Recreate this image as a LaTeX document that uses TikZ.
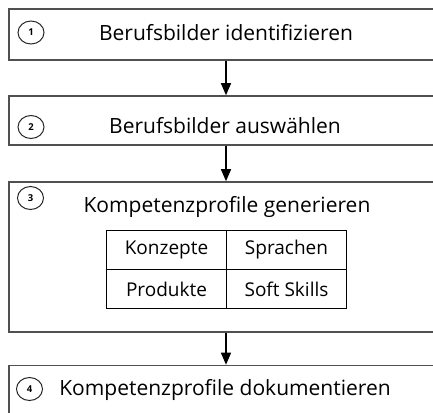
\documentclass[tikz,border=0pt]{standalone}
\usepackage{fontspec}
\setmainfont{Open Sans}
\usetikzlibrary{arrows.meta,shapes.geometric}
\definecolor{boxline}{HTML}{505050}
\tikzset{
  stepbox/.style={draw=boxline, line width=1.6pt, minimum width=434pt, inner sep=0pt},
  numcirc/.style={ellipse, draw=black!85, line width=1pt, minimum width=26pt, minimum height=23pt, inner sep=0pt, font=\fontsize{9.5}{10}\selectfont\bfseries},
  title/.style={font=\fontsize{21}{22}\selectfont, text=black, inner sep=0pt},
  cell/.style={draw=black, line width=1.1pt, minimum width=120pt, minimum height=39pt, inner sep=0pt, font=\fontsize{19}{20}\selectfont},
  flow/.style={line width=1.3pt, -{Triangle[width=10pt,length=12pt]}}
}
\begin{document}
\begin{tikzpicture}[x=1pt,y=-1pt]
\clip (0,0) rectangle (433,412);
\useasboundingbox (0,0) rectangle (433,412);
\fill[white] (0,0) rectangle (433,412);
% boxes
\node[stepbox, minimum height=51pt] (b1) at (226,34.5) {};
\node[stepbox, minimum height=49pt] (b2) at (226,120.5) {};
\node[stepbox, minimum height=150pt] (b3) at (226,257) {};
\node[stepbox, minimum height=51pt] (b4) at (226,391) {};
% titles
\node[title] (t1) at (226,33) {Berufsbilder identifizieren};
\node[title] (t2) at (225,126) {Berufsbilder auswählen};
\node[title] (t3) at (227,207) {Kompetenzprofile generieren};
\node[title] (t4) at (225,390) {Kompetenzprofile dokumentieren};
% number circles
\node[numcirc] (c1) at (31,32.5) {1};
\node[numcirc] (c2) at (31,127) {2};
\node[numcirc] (c3) at (30.5,198) {3};
\node[numcirc] (c4) at (29.5,389) {4};
% table
\node[cell] (k) at (166.5,250) {Konzepte};
\node[cell] (s) at (286.5,250) {Sprachen};
\node[cell] (p) at (166.5,289) {Produkte};
\node[cell] (sk) at (286.5,289) {Soft Skills};
% arrows
\draw[flow] (b1.south) -- (b2.north);
\draw[flow] (b2.south) -- (b3.north);
\draw[flow] (b3.south) -- (b4.north);
\end{tikzpicture}
\end{document}
